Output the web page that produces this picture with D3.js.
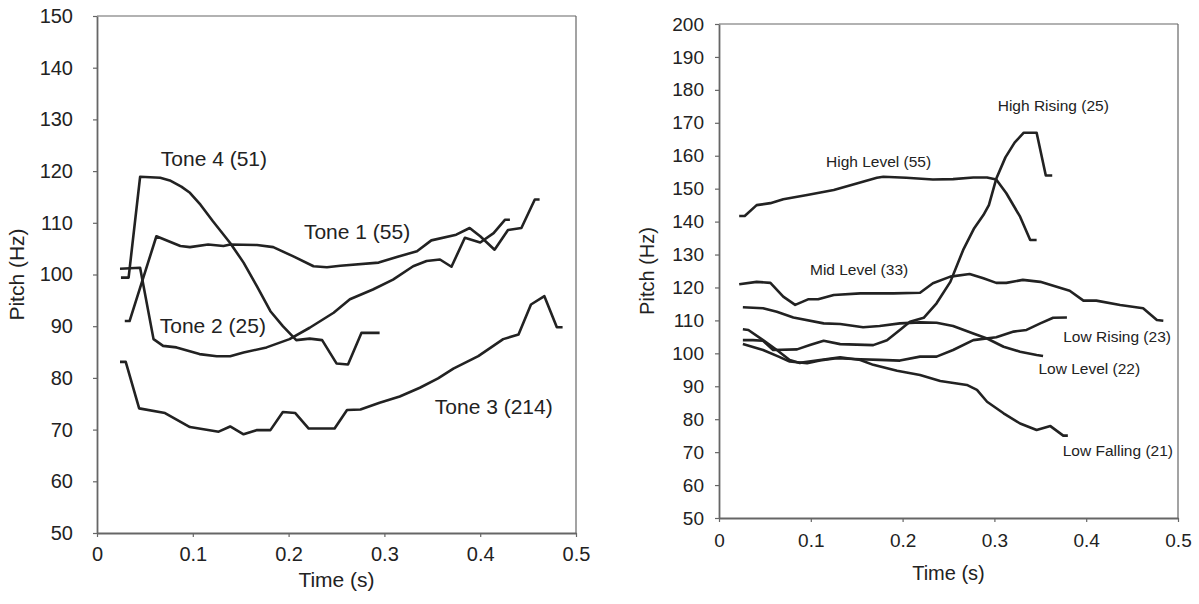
<!DOCTYPE html>
<html>
<head>
<meta charset="utf-8">
<script src="https://cdn.jsdelivr.net/npm/d3@7"></script>
<style>
  html, body { margin: 0; padding: 0; background: #fff; }
  svg { display: block; font-family: "Liberation Sans", Arial, sans-serif; }
</style>
</head>
<body>
<svg id="chart" width="1199" height="604"></svg>
<script>
// ---------- Data (time in s, pitch in Hz) ----------
const xTicks = [0, 0.1, 0.2, 0.3, 0.4, 0.5];
const leftYTicks = [50, 60, 70, 80, 90, 100, 110, 120, 130, 140, 150];
const rightYTicks = [50, 60, 70, 80, 90, 100, 110, 120, 130, 140, 150, 160, 170, 180, 190, 200];

const leftNames = ["Tone 1 (55)", "Tone 2 (25)", "Tone 3 (214)", "Tone 4 (51)"];
const tone1 = [[0.029,91.0],[0.034,91.0],[0.062,107.4],[0.087,105.5],[0.097,105.3],[0.116,105.8],[0.132,105.5],[0.139,105.8],[0.167,105.7],[0.184,105.3],[0.205,103.5],[0.226,101.6],[0.240,101.4],[0.254,101.7],[0.294,102.3],[0.313,103.4],[0.334,104.5],[0.349,106.6],[0.375,107.7],[0.389,109.0],[0.400,107.4],[0.415,104.8],[0.429,108.6],[0.443,109.0],[0.457,114.5],[0.462,114.5]];
const tone2 = [[0.024,101.1],[0.045,101.3],[0.059,87.5],[0.069,86.2],[0.083,85.9],[0.107,84.6],[0.125,84.2],[0.139,84.2],[0.153,84.9],[0.177,85.9],[0.201,87.5],[0.222,89.7],[0.247,92.6],[0.264,95.2],[0.288,97.1],[0.309,99.0],[0.330,101.6],[0.344,102.6],[0.358,102.9],[0.370,101.5],[0.384,107.1],[0.400,106.2],[0.414,108.0],[0.426,110.6],[0.431,110.6]];
const tone3 = [[0.024,83.1],[0.030,83.1],[0.044,74.1],[0.071,73.2],[0.097,70.5],[0.127,69.6],[0.139,70.6],[0.153,69.1],[0.167,69.9],[0.181,69.9],[0.194,73.4],[0.207,73.2],[0.221,70.2],[0.248,70.2],[0.261,73.8],[0.275,73.9],[0.295,75.2],[0.316,76.4],[0.337,78.1],[0.356,79.9],[0.372,81.8],[0.398,84.2],[0.424,87.5],[0.440,88.4],[0.453,94.2],[0.467,95.8],[0.480,89.8],[0.486,89.8]];
const tone4 = [[0.025,99.4],[0.033,99.4],[0.045,118.9],[0.066,118.7],[0.076,118.2],[0.088,117.0],[0.097,115.8],[0.108,113.5],[0.121,110.3],[0.139,106.1],[0.153,102.3],[0.167,97.7],[0.181,92.9],[0.194,90.0],[0.208,87.3],[0.222,87.6],[0.235,87.3],[0.250,82.8],[0.262,82.6],[0.276,88.7],[0.295,88.7]];

const rightNames = ["High Level (55)", "High Rising (25)", "Mid Level (33)", "Low Rising (23)", "Low Level (22)", "Low Falling (21)"];
const highLevel = [[0.022,141.7],[0.028,141.7],[0.041,145.0],[0.056,145.6],[0.070,146.8],[0.096,148.1],[0.125,149.6],[0.150,151.6],[0.172,153.3],[0.179,153.6],[0.204,153.3],[0.233,152.8],[0.255,152.9],[0.277,153.4],[0.292,153.4],[0.302,152.8],[0.313,148.6],[0.328,141.5],[0.339,134.4],[0.346,134.4]];
const highRising = [[0.026,104.0],[0.037,104.0],[0.048,103.8],[0.059,101.0],[0.085,101.2],[0.099,102.5],[0.114,103.8],[0.132,102.8],[0.168,102.5],[0.183,104.0],[0.197,107.1],[0.208,109.6],[0.223,110.8],[0.237,115.2],[0.252,121.7],[0.266,131.4],[0.278,138.0],[0.288,142.0],[0.294,145.0],[0.302,153.0],[0.312,159.5],[0.322,164.0],[0.332,167.0],[0.346,167.0],[0.356,154.0],[0.363,154.0]];
const midLevel = [[0.022,121.0],[0.041,121.7],[0.056,121.4],[0.070,117.2],[0.083,114.7],[0.097,116.4],[0.108,116.4],[0.125,117.7],[0.154,118.2],[0.190,118.2],[0.219,118.4],[0.233,121.3],[0.252,123.3],[0.273,124.1],[0.288,122.8],[0.302,121.4],[0.313,121.4],[0.331,122.3],[0.350,121.7],[0.382,119.0],[0.397,116.0],[0.411,116.0],[0.437,114.7],[0.462,113.7],[0.477,110.1],[0.484,109.9]];
const lowRising = [[0.026,102.8],[0.048,101.0],[0.065,99.0],[0.077,97.5],[0.096,97.0],[0.110,97.8],[0.128,98.5],[0.154,98.2],[0.175,98.0],[0.197,97.8],[0.219,99.0],[0.237,99.0],[0.255,101.0],[0.277,104.0],[0.302,104.9],[0.321,106.6],[0.335,107.1],[0.350,109.1],[0.364,110.8],[0.379,110.9]];
const lowLevel = [[0.026,114.0],[0.048,113.7],[0.063,112.6],[0.081,110.9],[0.114,109.1],[0.132,108.9],[0.157,107.9],[0.175,108.3],[0.197,109.1],[0.219,109.4],[0.237,109.3],[0.255,108.3],[0.277,106.0],[0.292,104.5],[0.310,102.0],[0.328,100.5],[0.346,99.5],[0.353,99.2]];
const lowFalling = [[0.026,107.3],[0.032,107.1],[0.048,104.0],[0.063,101.0],[0.077,98.0],[0.088,97.1],[0.110,98.0],[0.132,98.8],[0.154,98.0],[0.168,96.5],[0.194,94.7],[0.219,93.4],[0.241,91.6],[0.270,90.4],[0.281,88.9],[0.292,85.3],[0.310,81.8],[0.328,78.7],[0.346,76.7],[0.361,77.9],[0.375,75.0],[0.380,75.0]];

// ---------- Drawing ----------
const svg = d3.select("#chart");
const AXIS = "#666", INK = "#222";

function panel(cfg) {
  const x = d3.scaleLinear().domain([0, 0.5]).range([cfg.x0, cfg.x1]);
  const y = d3.scaleLinear().domain(cfg.yDomain).range([cfg.yBot, cfg.yTop]);
  const g = svg.append("g");

  // frame (top & right)
  g.append("line").attr("x1", cfg.x0).attr("x2", cfg.x1).attr("y1", cfg.yTop).attr("y2", cfg.yTop)
    .attr("stroke", AXIS).attr("stroke-width", 1.2);
  g.append("line").attr("x1", cfg.x1).attr("x2", cfg.x1).attr("y1", cfg.yTop).attr("y2", cfg.yBot)
    .attr("stroke", AXIS).attr("stroke-width", 1.2);

  const xAxis = g.append("g").attr("transform", `translate(0,${cfg.yBot})`)
    .call(d3.axisBottom(x).tickValues(xTicks).tickFormat(d => d === 0 ? "0" : d3.format(".1f")(d))
      .tickSizeInner(4).tickSizeOuter(0).tickPadding(cfg.xPad));
  const yAxis = g.append("g").attr("transform", `translate(${cfg.x0},0)`)
    .call(d3.axisLeft(y).tickValues(cfg.yTicks).tickSizeInner(4).tickSizeOuter(0).tickPadding(cfg.yPad));
  [xAxis, yAxis].forEach(a => {
    a.select(".domain").attr("stroke", AXIS).attr("stroke-width", 1.8);
    a.selectAll(".tick line").attr("stroke", AXIS).attr("stroke-width", 1.2);
    a.selectAll("text").attr("fill", INK).attr("font-size", cfg.tickFont)
      .attr("font-family", '"Liberation Sans", Arial, sans-serif');
  });

  // axis titles
  g.append("text").attr("x", (cfg.x0 + cfg.x1) / 2).attr("y", cfg.xTitleY).attr("text-anchor", "middle")
    .attr("font-size", cfg.titleFont).attr("fill", INK).text("Time (s)");
  g.append("text").attr("transform", `translate(${cfg.yTitleX},${(cfg.yTop + cfg.yBot) / 2}) rotate(-90)`)
    .attr("text-anchor", "middle").attr("font-size", cfg.titleFont).attr("fill", INK).text("Pitch (Hz)");

  const line = d3.line().x(d => x(d[0])).y(d => y(d[1]));
  cfg.series.forEach(s => {
    g.append("path").datum(s).attr("d", line).attr("fill", "none")
      .attr("stroke", INK).attr("stroke-width", 2.6).attr("stroke-linejoin", "round");
  });
  cfg.labels.forEach(l => {
    g.append("text").attr("x", x(l.t)).attr("y", y(l.hz)).attr("font-size", cfg.labelFont)
      .attr("fill", INK).text(l.text);
  });
}

panel({
  x0: 97, x1: 576, yTop: 16, yBot: 533, yDomain: [50, 150], yTicks: leftYTicks,
  tickFont: "20px", titleFont: "21px", labelFont: "21px", xPad: 10, yPad: 20,
  xTitleY: 587, yTitleX: 24,
  series: [tone1, tone2, tone3, tone4],
  labels: [
    { text: leftNames[3], t: 0.0666, hz: 121.0 },
    { text: leftNames[0], t: 0.216, hz: 106.8 },
    { text: leftNames[1], t: 0.0655, hz: 88.7 },
    { text: leftNames[2], t: 0.3526, hz: 73.0 }
  ]
});

panel({
  x0: 719, x1: 1178, yTop: 24, yBot: 518, yDomain: [50, 200], yTicks: rightYTicks,
  tickFont: "19px", titleFont: "20px", labelFont: "15.5px", xPad: 12, yPad: 11,
  xTitleY: 580, yTitleX: 654,
  series: [highLevel, highRising, midLevel, lowRising, lowLevel, lowFalling],
  labels: [
    { text: rightNames[0], t: 0.1166, hz: 156.7 },
    { text: rightNames[1], t: 0.3036, hz: 173.6 },
    { text: rightNames[2], t: 0.0991, hz: 123.8 },
    { text: rightNames[3], t: 0.375, hz: 103.5 },
    { text: rightNames[4], t: 0.348, hz: 93.7 },
    { text: rightNames[5], t: 0.3744, hz: 68.8 }
  ]
});
</script>
</body>
</html>
